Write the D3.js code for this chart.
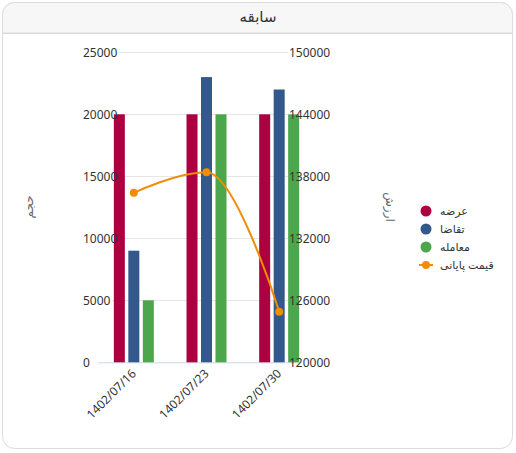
<!DOCTYPE html>
<html>
<head>
<meta charset="utf-8">
<script src="https://cdnjs.cloudflare.com/ajax/libs/d3/7.8.5/d3.min.js"></script>
<style>
  body { margin: 0; background: #fff; }
  text { font-family: "Noto Sans", "DejaVu Sans", sans-serif; }
</style>
</head>
<body>
<div id="chart"></div>
<script>
var dates = ["1402/07/16", "1402/07/23", "1402/07/30"];
var seriesNames = ["عرضه", "تقاضا", "معامله"];
var supply = [20000, 20000, 20000];
var demand = [9000, 23000, 22000];
var traded = [5000, 20000, 20000];
var closePrice = [136400, 138400, 124900];
var lineName = "قیمت پایانی";
var volumeTicks = [0, 5000, 10000, 15000, 20000, 25000];
var priceTicks = [120000, 126000, 132000, 138000, 144000, 150000];
var colors = ["#ad0041", "#33588c", "#4ca64c"];
var lineColor = "#f28c00";

var W = 516, H = 453;
var svg = d3.select('#chart').append('svg')
    .attr('width', W)
    .attr('height', H);

// card
svg.append('rect')
    .attr('x', 2.5).attr('y', 2.5)
    .attr('width', 510).attr('height', 446)
    .attr('rx', 12)
    .attr('fill', '#fff')
    .attr('stroke', '#dcdcdc');
svg.append('path')
    .attr('d', 'M2.5,33 L2.5,14.5 A12,12 0 0 1 14.5,2.5 L500.5,2.5 A12,12 0 0 1 512.5,14.5 L512.5,33 Z')
    .attr('fill', '#f7f7f7')
    .attr('stroke', '#dcdcdc');
svg.append('line')
    .attr('x1', 2.5).attr('x2', 512.5)
    .attr('y1', 33.5).attr('y2', 33.5)
    .attr('stroke', '#d8d8d8');
svg.append('text')
    .attr('x', 258).attr('y', 22)
    .attr('text-anchor', 'middle')
    .attr('font-size', '15px')
    .attr('fill', '#333')
    .text("سابقه");

var plotTop = 52.3, plotBottom = 362.3;
var x0 = d3.scaleBand().domain(dates).range([97.5, 315.5]);
var x1 = d3.scaleBand().domain(seriesNames).range([-20, 20]).paddingInner(0.24);
var yL = d3.scaleLinear().domain([0, 25000]).range([plotBottom, plotTop]);
var yR = d3.scaleLinear().domain([120000, 150000]).range([plotBottom, plotTop]);

// grid lines (start is moved after the labels are drawn)
var grid = svg.append('g').selectAll('line')
    .data(volumeTicks.slice(1))
    .enter().append('line')
    .attr('x1', 98).attr('x2', 288)
    .attr('y1', d => Math.round(yL(d)) + 0.5)
    .attr('y2', d => Math.round(yL(d)) + 0.5)
    .attr('stroke', '#e6e6e6');

// x baseline
svg.append('line')
    .attr('x1', 98).attr('x2', 300)
    .attr('y1', plotBottom + 0.5).attr('y2', plotBottom + 0.5)
    .attr('stroke', '#ccd6eb');

// bars
var barData = [supply, demand, traded];
var groups = svg.append('g').selectAll('g')
    .data(dates)
    .enter().append('g')
    .attr('transform', d => 'translate(' + (x0(d) + x0.bandwidth() / 2) + ',0)');
groups.selectAll('rect')
    .data((d, i) => seriesNames.map((s, j) => ({s: s, v: barData[j][i], c: colors[j]})))
    .enter().append('rect')
    .attr('x', d => x1(d.s))
    .attr('width', x1.bandwidth())
    .attr('y', d => yL(d.v))
    .attr('height', d => plotBottom - yL(d.v))
    .attr('fill', d => d.c);

// axes (labels left-aligned on both sides)
var leftAxis = svg.append('g')
    .attr('transform', 'translate(83,0)')
    .call(d3.axisRight(yL).tickValues(volumeTicks).tickSize(0).tickPadding(0).tickFormat(d3.format('d')));
var rightAxis = svg.append('g')
    .attr('transform', 'translate(288,0)')
    .call(d3.axisRight(yR).tickValues(priceTicks).tickSize(0).tickPadding(1).tickFormat(d3.format('d')));
[leftAxis, rightAxis].forEach(function(a){
    a.select('.domain').remove();
    a.selectAll('text')
        .attr('font-family', '"Noto Sans", "DejaVu Sans", sans-serif')
        .attr('font-size', '12px')
        .attr('fill', '#333');
});
var labelEnd = {};
leftAxis.selectAll('.tick').each(function(d){
    var bb = d3.select(this).select('text').node().getBBox();
    labelEnd[d] = 83 + bb.x + bb.width + 1;
});
grid.attr('x1', d => Math.max(98, labelEnd[d] || 98));

// category labels
svg.append('g').selectAll('text')
    .data(dates)
    .enter().append('text')
    .attr('transform', d => 'translate(' + (x0(d) + x0.bandwidth() / 2 + 3) + ',' + (plotBottom + 12) + ') rotate(-45)')
    .attr('text-anchor', 'end')
    .attr('font-size', '12px')
    .attr('fill', '#333')
    .text(d => d);

// axis titles
svg.append('text')
    .attr('transform', 'translate(33,207) rotate(-90)')
    .attr('text-anchor', 'middle')
    .attr('font-size', '12px')
    .attr('fill', '#666')
    .text("حجم");
svg.append('text')
    .attr('transform', 'translate(386,207) rotate(90)')
    .attr('text-anchor', 'middle')
    .attr('font-size', '12px')
    .attr('fill', '#666')
    .text("ارزش");

// spline line (highcharts style control points)
var pts = dates.map((d, i) => [x0(d) + x0.bandwidth() / 2, yR(closePrice[i])]);
var ctrl = pts.map(function(p, i){
    if(i == 0 || i == pts.length - 1) return null;
    var prev = pts[i - 1], next = pts[i + 1], s = 1.5, den = s + 1;
    var lx = (s * p[0] + prev[0]) / den, ly = (s * p[1] + prev[1]) / den;
    var rx = (s * p[0] + next[0]) / den, ry = (s * p[1] + next[1]) / den;
    var corr = ((ry - ly) * (rx - p[0])) / (rx - lx) + p[1] - ry;
    ly += corr; ry += corr;
    if(ly > Math.max(prev[1], p[1])){ ly = Math.max(prev[1], p[1]); ry = 2 * p[1] - ly; }
    else if(ly < Math.min(prev[1], p[1])){ ly = Math.min(prev[1], p[1]); ry = 2 * p[1] - ly; }
    if(ry > Math.max(next[1], p[1])){ ry = Math.max(next[1], p[1]); ly = 2 * p[1] - ry; }
    else if(ry < Math.min(next[1], p[1])){ ry = Math.min(next[1], p[1]); ly = 2 * p[1] - ry; }
    return {lx: lx, ly: ly, rx: rx, ry: ry};
});
var path = d3.path();
path.moveTo(pts[0][0], pts[0][1]);
for(var i = 1; i < pts.length; i++){
    var a = ctrl[i - 1] ? [ctrl[i - 1].rx, ctrl[i - 1].ry] : pts[i - 1];
    var b = ctrl[i] ? [ctrl[i].lx, ctrl[i].ly] : pts[i];
    path.bezierCurveTo(a[0], a[1], b[0], b[1], pts[i][0], pts[i][1]);
}
svg.append('path')
    .attr('d', path.toString())
    .attr('fill', 'none')
    .attr('stroke', lineColor)
    .attr('stroke-width', 2);
svg.append('g').selectAll('circle')
    .data(pts)
    .enter().append('circle')
    .attr('cx', d => d[0]).attr('cy', d => d[1])
    .attr('r', 4)
    .attr('fill', lineColor);

// legend
var legend = svg.append('g').attr('transform', 'translate(426,211)');
seriesNames.forEach(function(s, i){
    legend.append('circle')
        .attr('cx', 0).attr('cy', i * 18)
        .attr('r', 5.5)
        .attr('fill', colors[i]);
    legend.append('text')
        .attr('x', 14).attr('y', i * 18 + 4)
        .attr('font-size', '11px')
        .attr('fill', '#333')
        .text(s);
});
legend.append('line')
    .attr('x1', -7).attr('x2', 7)
    .attr('y1', 54).attr('y2', 54)
    .attr('stroke', lineColor)
    .attr('stroke-width', 2);
legend.append('circle')
    .attr('cx', 0).attr('cy', 54).attr('r', 4)
    .attr('fill', lineColor);
legend.append('text')
    .attr('x', 14).attr('y', 58)
    .attr('font-size', '11px')
    .attr('fill', '#333')
    .text(lineName);
</script>
</body>
</html>
